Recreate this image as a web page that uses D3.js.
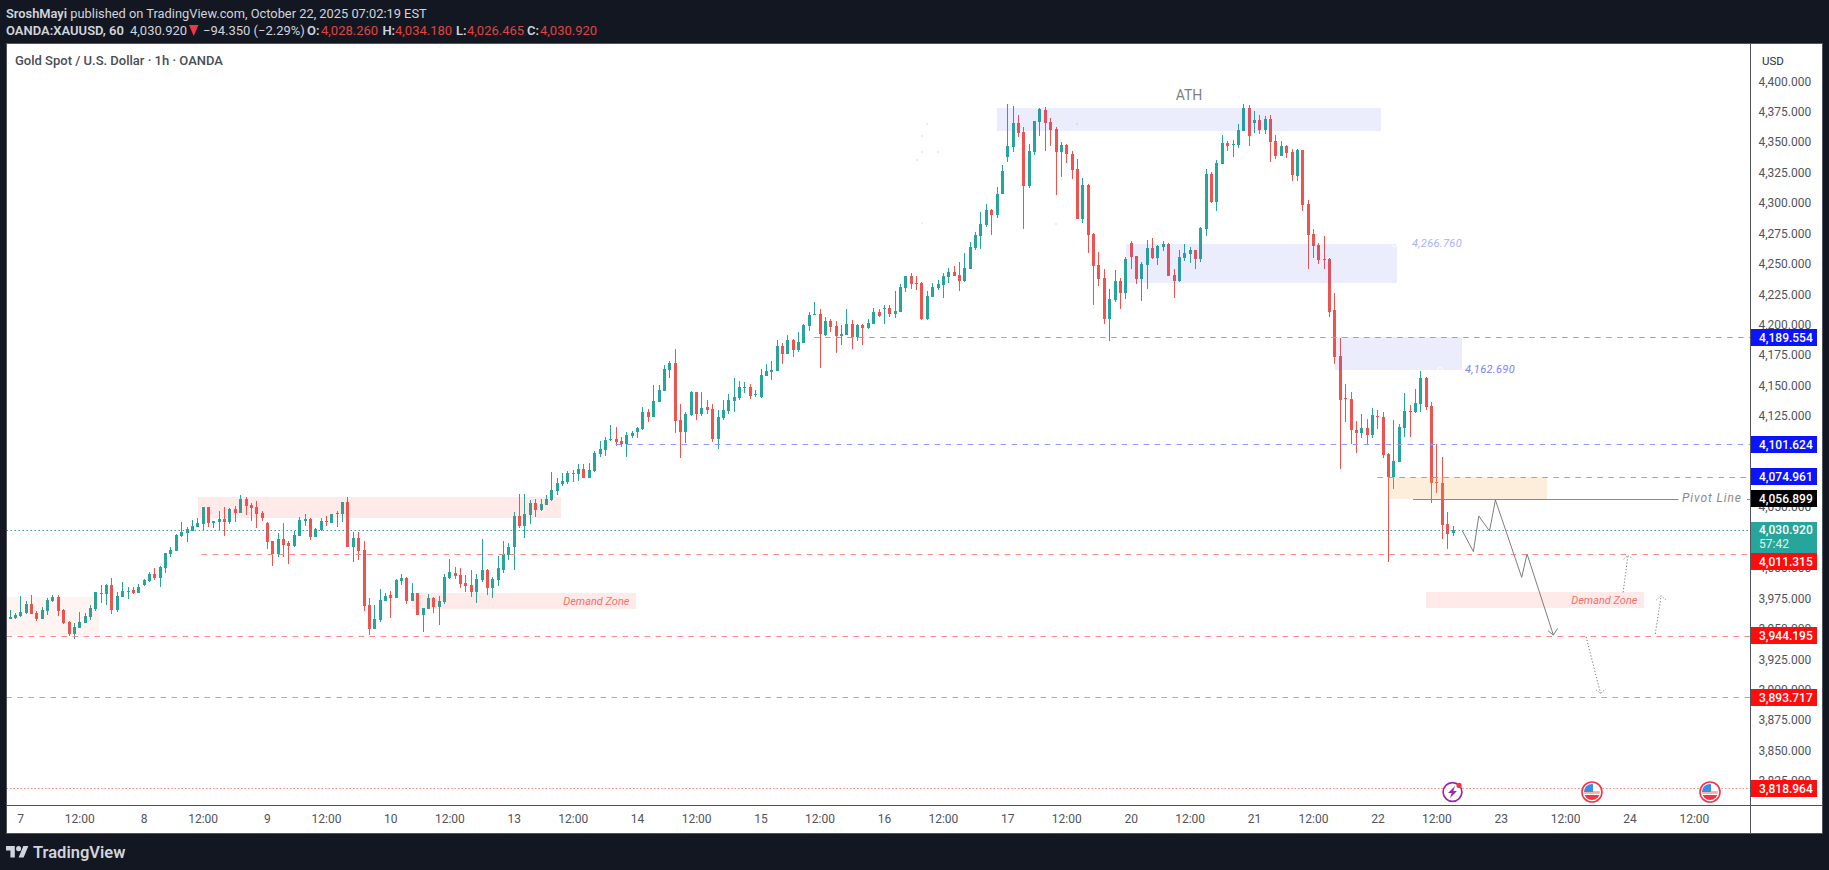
<!DOCTYPE html>
<html>
<head>
<meta charset="utf-8">
<script src="https://cdn.jsdelivr.net/npm/d3@7/dist/d3.min.js"></script>
<style>
html,body{margin:0;padding:0;background:#131722;overflow:hidden}
svg{display:block}
text{font-family:Roboto,"Liberation Sans",sans-serif}
</style>
</head>
<body>
<div id="chart"></div>
<script>
// ---- candle data (XAUUSD 1h) ----
const highs = [3965.5,3963.0,3977.0,3972.9,3977.8,3964.7,3967.9,3975.3,3977.8,3977.8,3966.3,3956.4,3954.8,3963.8,3963.0,3969.6,3980.3,3986.0,3986.8,3991.8,3980.3,3988.5,3984.4,3984.4,3986.8,3991.0,3996.7,4000.0,4001.6,4012.3,4017.3,4027.9,4037.8,4033.7,4039.4,4041.1,4050.1,4050.1,4038.6,4046.8,4050.1,4049.3,4050.9,4060.0,4058.3,
4053.4,4055.0,4046.8,4037.8,4022.2,4028.7,4037.0,4022.2,4030.4,4041.9,4044.4,4041.1,4032.9,4041.1,4042.7,4044.4,4046.8,4054.2,4058.3,4029.6,4029.6,4022.2,3975.3,3969.6,3982.7,3979.5,3981.1,3990.9,3995.1,3992.6,3987.7,3979.5,3967.1,3978.6,3976.2,3977.0,3995.1,4007.4,4000.8,4000.0,3994.2,3998.3,3995.1,4023.8,3999.2,
3992.6,4009.9,4022.2,4020.5,
4046.0,4060.8,4060.8,4055.9,4056.7,4056.7,4060.0,4078.9,4073.9,4078.1,4079.7,4080.5,4085.5,4085.5,4086.3,4096.1,4104.3,4107.6,4117.5,4115.8,4107.6,4111.7,4112.5,4115.8,4132.3,4130.6,4150.4,4150.4,4166.8,4170.1,4180.0,4134.7,4128.2,4145.4,4144.6,4144.6,4138.0,4134.7,4129.8,4138.0,4143.0,4156.1,4153.6,
4152.9,4151.2,4146.3,4163.5,4167.6,4170.1,4187.3,4184.9,4191.4,4188.2,4193.9,4200.5,4210.3,4218.6,4212.8,4206.2,4204.6,4202.9,4199.7,4212.8,4203.8,4200.5,4200.5,4204.6,4213.6,4212.8,4216.1,4216.1,4227.6,4233.3,4239.9,4242.4,4239.9,4235.0,4227.6,4234.2,4236.6,4242.4,4246.5,4248.1,4251.4,4258.8,4267.9,4276.1,4292.5,4299.1,
4295.0,4313.0,4331.1,4381.3,4379.6,4372.2,4362.4,4348.4,4367.3,4378.0,4378.8,4369.7,4362.4,4350.0,4348.4,4342.6,4336.1,4320.5,4315.5,4275.2,4259.6,4245.7,4229.2,4244.9,4238.3,4255.5,4268.7,4256.3,4251.4,4269.5,4271.1,4265.4,4268.7,4267.0,4245.7,4261.3,4266.2,4263.7,4261.3,4280.2,4327.8,4325.4,4335.2,4355.8,
4350.8,4351.7,4364.8,4381.3,4380.4,4375.5,4372.2,4371.4,4372.2,4355.8,4350.8,4347.6,4344.3,4344.3,4343.5,4302.4,4278.5,4267.0,4272.8,4254.7,4225.9,4189.0,4151.2,4144.6,4120.8,4126.5,4122.4,4131.5,4129.8,4128.2,4094.5,4121.6,4118.3,4143.8,4133.9,4147.1,4161.8,4156.9,4136.4,4101.9,4091.2,4046.0,4034.18];

const lows = [3958.1,3958.1,3959.7,3962.2,3962.2,3956.4,3958.1,3961.4,3972.1,3960.6,3954.0,3944.1,3941.6,3950.7,3954.8,3957.3,3964.7,3971.2,3969.6,3962.2,3963.8,3976.2,3974.5,3978.6,3979.5,3985.2,3988.5,3990.1,3984.4,3995.9,4009.0,4014.0,4025.5,4021.4,4030.7,4033.7,4030.7,4033.7,4032.9,4031.2,4026.3,4036.1,4037.8,4045.2,4043.5,
4038.6,4032.9,4038.6,4015.6,4001.6,4009.0,4009.0,4003.3,4017.3,4026.3,4034.5,4023.0,4025.5,4030.7,4034.5,4037.0,4033.7,4037.8,4017.3,4004.9,4006.6,3964.7,3944.9,3949.9,3955.6,3972.9,3958.9,3975.3,3986.0,3970.4,3972.9,3961.4,3947.4,3966.3,3963.0,3953.2,3970.4,3991.0,3991.0,3983.6,3980.3,3976.2,3971.2,3988.5,3977.8,
3975.4,3985.2,3995.9,4006.6,
3998.4,4032.9,4024.6,4036.1,4041.9,4046.8,4051.8,4055.0,4060.0,4067.4,4069.0,4070.7,4071.5,4073.9,4073.9,4078.9,4091.2,4092.0,4104.3,4100.2,4099.4,4091.2,4106.8,4106.8,4113.4,4120.0,4124.1,4136.4,4145.4,4156.1,4110.9,4090.4,4102.7,4124.9,4121.6,4124.9,4126.5,4103.5,4097.8,4121.6,4126.5,4128.2,4138.0,
4143.8,4138.8,4140.8,4139.9,4157.8,4154.5,4161.9,4167.6,4175.8,4173.4,4177.5,4184.9,4194.7,4207.9,4164.3,4190.6,4193.9,4176.6,4183.2,4191.4,4179.9,4186.5,4183.2,4196.4,4200.5,4206.2,4200.5,4206.2,4205.4,4210.3,4226.8,4229.2,4228.4,4203.8,4203.8,4222.7,4228.4,4221.8,4234.2,4239.9,4227.6,4235.0,4245.7,4261.3,4262.1,4280.2,
4273.6,4287.6,4307.3,4333.6,4341.8,4354.1,4278.5,4312.2,4339.3,4354.9,4342.6,4346.7,4306.5,4321.3,4332.8,4319.6,4286.8,4283.5,4258.8,4216.1,4231.7,4200.5,4186.5,4218.6,4212.8,4221.0,4245.7,4233.4,4219.4,4229.2,4253.9,4249.0,4260.5,4239.9,4221.9,4235.0,4252.3,4250.6,4245.7,4251.4,4272.8,4299.9,4293.3,4331.9,
4342.6,4337.7,4345.1,4359.1,4346.7,4357.4,4356.6,4356.6,4333.6,4336.1,4338.5,4336.9,4318.0,4318.0,4293.3,4245.7,4254.7,4249.8,4245.7,4206.2,4167.6,4081.3,4120.0,4101.9,4094.5,4106.8,4101.0,4106.8,4114.2,4090.4,4005.2,4064.9,4087.1,4107.6,4107.6,4127.4,4128.2,4129.8,4053.4,4061.6,4023.8,4015.6,4026.465];

const opens = [3958.1,3958.9,3960.6,3962.7,3970.4,3963.0,3958.1,3964.7,3972.9,3976.2,3965.5,3955.6,3945.8,3950.7,3954.8,3959.7,3966.3,3979.5,3978.6,3986.0,3965.5,3976.2,3980.3,3981.9,3979.5,3986.0,3989.3,3995.1,3991.8,4000.0,4011.5,4014.0,4026.3,4028.7,4030.7,4033.7,4036.1,4050.1,4037.0,4037.8,4040.3,4037.8,4048.5,4045.2,4056.7,
4051.8,4050.1,4045.2,4037.0,4022.2,4011.5,4023.8,4020.5,4018.1,4026.3,4038.6,4040.3,4025.5,4031.2,4038.6,4037.0,4044.4,4044.4,4054.2,4017.3,4024.6,4014.8,3969.6,3949.9,3957.3,3972.9,3977.8,3975.3,3989.3,3991.8,3972.9,3979.5,3961.4,3966.3,3975.3,3967.9,3972.1,3991.8,3995.9,3994.2,3987.7,3986.0,3980.3,3990.1,3998.3,
3983.6,3990.2,3998.4,4010.7,
4017.3,4042.7,4034.5,4043.5,4053.4,4047.6,4051.8,4055.9,4063.3,4069.0,4070.7,4078.1,4077.2,4081.4,4073.9,4079.7,4093.7,4097.0,4105.2,4106.0,4104.3,4101.9,4108.4,4111.7,4114.2,4128.2,4124.1,4136.4,4145.4,4162.7,4168.4,4121.6,4111.7,4125.7,4144.6,4126.5,4132.3,4130.6,4106.0,4123.3,4129.0,4137.2,4139.7,
4147.9,4148.7,4142.2,4140.8,4157.8,4161.0,4161.9,4182.4,4175.8,4187.3,4179.1,4184.9,4198.9,4207.9,4208.7,4191.4,4202.9,4198.9,4190.6,4191.4,4200.5,4189.8,4199.7,4197.2,4200.5,4210.3,4212.8,4213.6,4208.7,4210.3,4230.1,4239.9,4234.2,4234.2,4204.6,4222.7,4230.1,4232.5,4239.1,4243.2,4240.7,4235.8,4245.7,4262.9,4272.8,4281.8,
4294.2,4290.0,4307.3,4337.7,4345.9,4365.6,4358.2,4313.9,4341.8,4366.5,4376.3,4366.5,4360.7,4341.8,4347.6,4340.2,4327.8,4286.8,4314.7,4274.4,4249.0,4238.3,4204.6,4220.2,4235.8,4226.0,4267.0,4256.3,4237.5,4249.0,4262.9,4254.7,4263.7,4266.2,4240.7,4235.8,4254.7,4258.0,4261.3,4253.9,4278.5,4323.7,4300.7,4331.9,
4349.2,4347.6,4347.6,4359.1,4378.0,4365.6,4368.1,4359.9,4368.9,4350.8,4338.5,4346.7,4341.8,4322.1,4343.5,4299.1,4274.4,4265.4,4253.9,4253.9,4212.0,4174.2,4139.7,4138.9,4113.4,4110.9,4115.0,4109.3,4124.9,4124.1,4093.6,4074.8,4087.1,4115.0,4129.0,4128.2,4134.8,4156.1,4133.1,4070.6,4069.8,4036.1,4028.26];

const closes = [3959.7,3961.4,3963.8,3970.4,3962.2,3958.1,3965.5,3973.7,3976.2,3964.7,3954.8,3945.8,3951.5,3955.6,3960.6,3967.1,3980.3,3978.6,3986.0,3965.5,3977.0,3981.1,3981.1,3979.5,3984.4,3990.1,3995.1,3991.8,4000.8,4012.3,4014.8,4027.1,4029.6,4032.0,4034.5,4037.0,4050.1,4037.0,4038.6,4040.3,4037.8,4048.5,4045.2,4056.7,4050.9,
4049.3,4044.4,4041.1,4021.4,4011.5,4023.8,4018.9,4018.1,4027.1,4039.4,4040.3,4025.5,4032.0,4038.6,4037.8,4044.4,4045.2,4054.2,4017.3,4024.6,4014.0,3968.8,3949.9,3958.1,3973.7,3977.0,3975.3,3990.1,3991.8,3972.9,3979.5,3961.4,3967.1,3975.3,3967.9,3972.9,3992.6,3996.7,3993.4,3986.8,3985.2,3980.3,3990.9,3998.3,3983.6,
3991.0,4000.0,4011.5,4017.3,
4042.7,4034.5,4044.4,4053.4,4047.6,4052.6,4056.7,4064.1,4069.8,4071.5,4078.1,4077.2,4081.4,4073.9,4080.5,4094.5,4097.8,4105.2,4106.0,4103.5,4101.9,4109.2,4110.9,4115.0,4128.2,4124.1,4137.2,4146.3,4163.5,4168.4,4120.8,4111.7,4126.5,4144.6,4126.5,4131.5,4129.8,4106.0,4124.1,4129.8,4138.0,4140.5,4148.7,
4148.7,4141.3,4143.0,4158.6,4161.9,4162.7,4182.4,4175.8,4187.3,4179.1,4185.7,4199.7,4207.9,4208.7,4192.3,4202.9,4198.0,4190.6,4192.3,4200.5,4189.8,4199.7,4197.2,4201.3,4210.3,4207.1,4213.6,4208.7,4211.2,4230.9,4239.9,4233.3,4233.3,4204.6,4223.5,4230.9,4233.3,4239.9,4243.2,4239.9,4235.8,4246.5,4263.8,4273.6,4282.7,4294.2,
4290.0,4307.3,4326.2,4346.7,4365.6,4357.4,4313.9,4342.6,4367.3,4377.1,4365.6,4359.9,4341.8,4347.6,4340.2,4327.0,4286.8,4314.7,4273.6,4248.1,4237.5,4204.6,4221.0,4235.8,4226.0,4253.9,4255.5,4237.5,4249.8,4262.9,4254.7,4264.6,4266.2,4239.9,4235.8,4255.5,4258.8,4261.3,4253.9,4279.4,4323.7,4300.7,4332.8,4349.2,
4346.7,4348.4,4359.9,4378.0,4355.0,4368.1,4359.9,4368.9,4350.0,4338.5,4346.7,4341.0,4322.9,4343.5,4298.3,4273.6,4264.6,4253.1,4253.1,4210.3,4173.4,4138.0,4138.9,4113.4,4110.9,4115.0,4109.3,4125.7,4124.1,4092.8,4074.8,4087.9,4115.8,4129.0,4128.2,4135.6,4156.1,4132.3,4069.8,4069.8,4035.3,4027.9,4030.92];

if ([highs,lows,opens,closes].some(a => a.length !== 270))
  throw new Error("lengths " + [highs,lows,opens,closes].map(a => a.length).join(","));

// ---- axes ----
const priceTicks = d3.range(3825, 4401, 25);
const timeTickIdx = [2,13,25,36,48,59,71,82,94,105,117,128,140,151,163,174,186,197,209,220,232,243,255,266,278,290,302,314];
const timeTickLabels = ["7","12:00","8","12:00","9","12:00","10","12:00","13","12:00","14","12:00","15","12:00","16","12:00","17","12:00","20","12:00","21","12:00","22","12:00","23","12:00","24","12:00"];

// ---- drawn zones: bar from, bar to, price top, price bottom ----
const lavenderZones = [[184.1,255.7,4378.0,4359.1],[208.1,258.7,4266.2,4234.2],[247.1,270.8,4189.6,4162.7]];
const pinkZones = [[35.1,102.8,4058.3,4041.1],[75.0,116.8,3979.5,3966.3],[264.0,304.7,3980.0,3967.0]];
const palePinkZones = [[-1,16.7,3976.4,3944.9]];
const orangeZones = [[256.9,286.6,4074.7,4056.9]];

// ---- horizontal levels: price and first bar ----
const redDashed = [[4011.315,35.8],[3944.195,-1],[3893.717,-1]];
const blueDashed = [[4189.554,150],[4101.624,113],[4074.961,255]];
const pivotLevel = 4056.899;
const lastPrice = 4030.92;
const lowDotted = 3818.964;

// ---- projected path and dotted arrows: bar, price ----
const projection = [[270.8,4030.9],[272.9,4013.4],[273.9,4042.7],[275.9,4030.4],[277.0,4055.9],[281.9,3992.3],[282.9,4011.5],[287.8,3944.9]];
const projectionHead = [[286.8,3948.5],[287.8,3944.9],[288.6,3950.4]];
const dottedArrows = [
  [[300.8,3980.0],[301.7,4010.1]],
  [[306.8,3945.8],[307.9,3977.2]],
  [[293.9,3943.5],[296.6,3897.0]]];
const dottedHeads = [
  [[300.9,4007.3],[301.7,4010.1],[302.7,4007.3]],
  [[307.0,3973.7],[307.9,3977.2],[308.8,3973.7]],
  [[295.8,3899.7],[296.6,3897.0],[297.5,3900.3]]];
const faintSpecks = [[170.9,4365.6],[169.9,4355.8],[169.9,4342.6],[172.9,4342.6],[168.9,4336.3],[169.9,4284.3],[194.9,4283.7],[198.9,4365.6]];

// ---- price badges on the axis ----
const badgePrices = [4189.554,4101.624,4074.961,4056.899,4011.315,3944.195,3893.717,3818.964];
const badgeColours = ["#0a14ff","#0a14ff","#0a14ff","#000000","#ff0d0d","#ff0d0d","#ff0d0d","#ff0d0d"];
const badgeShift = [0,0,0,0,7,0,0,0];

// ---- events ----
const eventBars = [269,295,317];

// ---- scales ----
const W = 1829, H = 870;
const P = {l:6.5, r:1750.5, t:43.5, b:805.5, outerR:1822.5, outerB:833.5};
const x = d3.scaleLinear().domain([0,269]).range([9.5,1452.5]);
const y = d3.scaleLinear().domain([3818.964,4189.554]).range([788.3,337.3]);
const GREEN="#26a69a", RED="#ef5350", AXTXT="#50535e", BORDER="#50535e";

const svg = d3.select("#chart").append("svg").attr("width",W).attr("height",H).attr("viewBox",`0 0 ${W} ${H}`);
svg.append("rect").attr("width",W).attr("height",H).attr("fill","#131722");
svg.append("rect").attr("x",P.l).attr("y",P.t).attr("width",P.outerR-P.l).attr("height",P.outerB-P.t).attr("fill","#fff");

svg.append("defs").append("clipPath").attr("id","plot").append("rect")
  .attr("x",P.l+.5).attr("y",P.t+.5).attr("width",P.r-P.l-1).attr("height",P.b-P.t-1);
const plot = svg.append("g").attr("clip-path","url(#plot)");

// faint specks left by drawings
plot.append("g").attr("shape-rendering","crispEdges").selectAll("rect").data(faintSpecks).join("rect")
  .attr("x",d=>x(d[0])).attr("y",d=>y(d[1])).attr("width",2).attr("height",2).attr("fill","#ececec");

// candles
const bars = d3.range(270);
const g = plot.append("g").attr("shape-rendering","crispEdges");
g.selectAll("rect.w").data(bars).join("rect").attr("class","w")
  .attr("x",i=>Math.round(x(i))).attr("width",1)
  .attr("y",i=>y(highs[i])).attr("height",i=>Math.max(1,y(lows[i])-y(highs[i])))
  .attr("fill",i=>closes[i]>=opens[i]?GREEN:RED);
g.selectAll("rect.b").data(bars).join("rect").attr("class","b")
  .attr("x",i=>Math.round(x(i))-1).attr("width",3)
  .attr("y",i=>Math.round(y(Math.max(opens[i],closes[i]))))
  .attr("height",i=>Math.max(1,Math.round(Math.abs(y(opens[i])-y(closes[i])))))
  .attr("fill",i=>closes[i]>=opens[i]?GREEN:RED);

// zones
function zones(list,fill){
  plot.append("g").attr("shape-rendering","crispEdges").selectAll("rect").data(list).join("rect")
    .attr("x",d=>x(d[0])).attr("width",d=>x(d[1])-x(d[0]))
    .attr("y",d=>y(d[2])).attr("height",d=>y(d[3])-y(d[2])).attr("fill",fill);
}
zones(palePinkZones,"rgba(245,65,45,.055)");
zones(pinkZones,"rgba(245,65,45,.105)");
zones(lavenderZones,"rgba(65,75,225,.1)");
zones(orangeZones,"rgba(245,170,75,.2)");

// horizontal levels
function hline(yv,x0,x1,col,dash,w){
  plot.append("line").attr("x1",x0).attr("x2",x1).attr("y1",Math.round(y(yv))+.5).attr("y2",Math.round(y(yv))+.5)
    .attr("stroke",col).attr("stroke-width",w||1).attr("stroke-dasharray",dash||null);
}
hline(lastPrice,P.l,P.r,GREEN,"1.5 2.5",1.2);
hline(lowDotted,P.l,P.r,"#f98a82","1.5 2",1);
redDashed.forEach(d=>hline(d[0],Math.max(x(d[1]),P.l),P.r,"#fb8d86","5.5 5.5",1.1));
blueDashed.forEach(d=>hline(d[0],x(d[1]),P.r,"#8f9bfb","5.5 5.5",1.1));
hline(pivotLevel,1413,1678.5,"#8a8a8a",null,1);
hline(pivotLevel,1747,P.r,"#8a8a8a",null,1);

// projection
const ln = d3.line().x(d=>x(d[0])).y(d=>y(d[1]));
plot.append("path").attr("d",ln(projection)).attr("fill","none").attr("stroke","#7d7d7d").attr("stroke-width",1);
plot.append("path").attr("d",ln(projectionHead)).attr("fill","none").attr("stroke","#7d7d7d").attr("stroke-width",1);
dottedArrows.forEach(a=>plot.append("path").attr("d",ln(a)).attr("fill","none").attr("stroke","#777").attr("stroke-width",1).attr("stroke-dasharray","1.2 2"));
dottedHeads.forEach(a=>plot.append("path").attr("d",ln(a)).attr("fill","none").attr("stroke","#888").attr("stroke-width",1).attr("stroke-dasharray","1.2 1.6"));

// ring handles on zones
[[258.2,4266.2],[266.7,4162.7]].forEach(d=>plot.append("circle").attr("cx",x(d[0])).attr("cy",y(d[1])).attr("r",2.6)
  .attr("fill","none").attr("stroke","#fff").attr("stroke-width",1).attr("opacity",.9));

// chart texts
const txt=(X,Y,s,o={})=>{
  const t=(o.parent||svg).append("text").attr("x",X).attr("y",Y).attr("dominant-baseline","central")
   .attr("font-size",o.size||12).attr("font-weight",o.w||400).attr("fill",o.fill||"#333")
   .attr("font-style",o.style||"normal").attr("text-anchor",o.anchor||"start").text(s);
  if(o.ls) t.attr("letter-spacing",o.ls);
  return t;
};
txt(1189,95,"ATH",{size:14,fill:"#7d7f88",anchor:"middle",parent:plot});
txt(629.5,601,"Demand Zone",{size:11,fill:"#f5706c",style:"italic",anchor:"end",parent:plot});
txt(1637.5,600,"Demand Zone",{size:11,fill:"#f5706c",style:"italic",anchor:"end",parent:plot});
txt(1412,243,"4,266.760",{size:11,fill:"#a9b0f8",style:"italic",parent:plot,ls:.35});
txt(1465,369,"4,162.690",{size:11,fill:"#7883f6",style:"italic",parent:plot,ls:.35});
txt(1682,498,"Pivot Line",{size:12,fill:"#8a8a8a",style:"italic",parent:plot,ls:.9});

// event icons
const ev=svg.append("g");
const evY=792;
const e0=ev.append("g").attr("transform",`translate(${x(eventBars[0])},${evY})`);
e0.append("circle").attr("r",9.4).attr("fill","#fff").attr("stroke","#9c27b0").attr("stroke-width",1.7);
e0.append("path").attr("d","M2.5,-6 L-4.5,1 L-0.8,1 L-2.5,6 L4.5,-1 L0.8,-1 Z").attr("fill","#9c27b0");
e0.append("circle").attr("cx",6.6).attr("cy",-6.6).attr("r",2.6).attr("fill","#f23645");
eventBars.slice(1).forEach((b,k)=>{
  const e=ev.append("g").attr("transform",`translate(${x(b)},${evY})`);
  const cid="fl"+k;
  e.append("clipPath").attr("id",cid).append("circle").attr("r",8);
  e.append("circle").attr("r",10).attr("fill","#fff").attr("stroke","#f23645").attr("stroke-width",1.6);
  const f=e.append("g").attr("clip-path",`url(#${cid})`);
  f.append("rect").attr("x",-10).attr("y",-10).attr("width",20).attr("height",20).attr("fill","#fff");
  f.append("rect").attr("x",-10).attr("y",-1).attr("width",20).attr("height",3).attr("fill","#f7b0b0");
  f.append("rect").attr("x",-10).attr("y",3).attr("width",20).attr("height",7).attr("fill","#f23645");
  f.append("rect").attr("x",-10).attr("y",-10).attr("width",11).attr("height",10).attr("fill","#3a8ee6");
});

// axes through d3
const yAxis=d3.axisRight(y).tickValues(priceTicks).tickSize(0).tickPadding(8).tickFormat(d3.format(",.3f"));
const ya=svg.append("g").attr("transform",`translate(${P.r},0)`).call(yAxis);
ya.select(".domain").remove();
ya.selectAll("text").attr("fill",AXTXT).attr("font-size",12).attr("font-family","Roboto,sans-serif");
const xAxis=d3.axisBottom(x).tickValues(timeTickIdx).tickSize(0).tickPadding(9).tickFormat((d,i)=>timeTickLabels[i]);
const xa=svg.append("g").attr("transform",`translate(0,${P.b})`).call(xAxis);
xa.select(".domain").remove();
xa.selectAll("text").attr("fill",AXTXT).attr("font-size",12).attr("font-family","Roboto,sans-serif");

// frames
const fr=svg.append("g").attr("stroke",BORDER).attr("stroke-width",1).attr("fill","none");
fr.append("rect").attr("x",P.l).attr("y",P.t).attr("width",P.outerR-P.l).attr("height",P.outerB-P.t);
fr.append("line").attr("x1",P.r).attr("x2",P.r).attr("y1",P.t).attr("y2",P.outerB);
fr.append("line").attr("x1",P.l).attr("x2",P.outerR).attr("y1",P.b).attr("y2",P.b);

// badges
badgePrices.forEach((p,k)=>{
  const cy=y(p)+badgeShift[k];
  svg.append("rect").attr("x",1751).attr("y",Math.round(cy-8.5)).attr("width",66).attr("height",17).attr("fill",badgeColours[k]).attr("shape-rendering","crispEdges");
  txt(1759,Math.round(cy-8.5)+8.5,d3.format(",.3f")(p),{fill:"#fff",size:12,w:500});
});
svg.append("rect").attr("x",1751).attr("y",522).attr("width",66).attr("height",31).attr("fill",GREEN);
txt(1759,530,d3.format(",.3f")(lastPrice),{fill:"#fff",size:12,w:500});
txt(1759,544,"57:42",{fill:"#e3f4f2",size:12});

// header
txt(1773,61,"USD",{size:11.5,fill:"#2a2e39",anchor:"middle",w:400});
txt(15,60.7,"Gold Spot / U.S. Dollar · 1h · OANDA",{size:13,fill:"#4a4d57",w:500});
const HD="#d1d4dc", HR="#e0443f";
const h1=svg.append("text").attr("x",6).attr("y",12.7).attr("dominant-baseline","central").attr("font-size",12.85).attr("fill",HD);
h1.append("tspan").attr("font-weight",600).text("SroshMayi");
h1.append("tspan").text(" published on TradingView.com, October 22, 2025 07:02:19 EST");
txt(6,30,"OANDA:XAUUSD, 60",{size:13,fill:HD,w:600});
txt(130,30,"4,030.920",{size:13,fill:HD});
svg.append("path").attr("d","M189,25 L198.5,25 L193.75,36 Z").attr("fill","#f23645");
txt(203,30,"−94.350 (−2.29%)",{size:13,fill:HD});
[["O:",307,"4,028.260",321],["H:",382.4,"4,034.180",395],["L:",456,"4,026.465",467],["C:",527,"4,030.920",540]].forEach(d=>{
  txt(d[1],30,d[0],{size:13,fill:HD,w:600});
  txt(d[3],30,d[2],{size:13,fill:HR});
});

// footer logo
const lg=svg.append("g").attr("transform","translate(6,843.6) scale(.63)").attr("fill","#d1d4dc");
lg.append("path").attr("d","M14 22H7V11H0V4h14v18zM28 22h-8l7.5-18h8L28 22z");
lg.append("circle").attr("cx",20).attr("cy",8).attr("r",4);
txt(33,852,"TradingView",{size:16.5,fill:"#d1d4dc",w:600});
</script>
</body>
</html>
